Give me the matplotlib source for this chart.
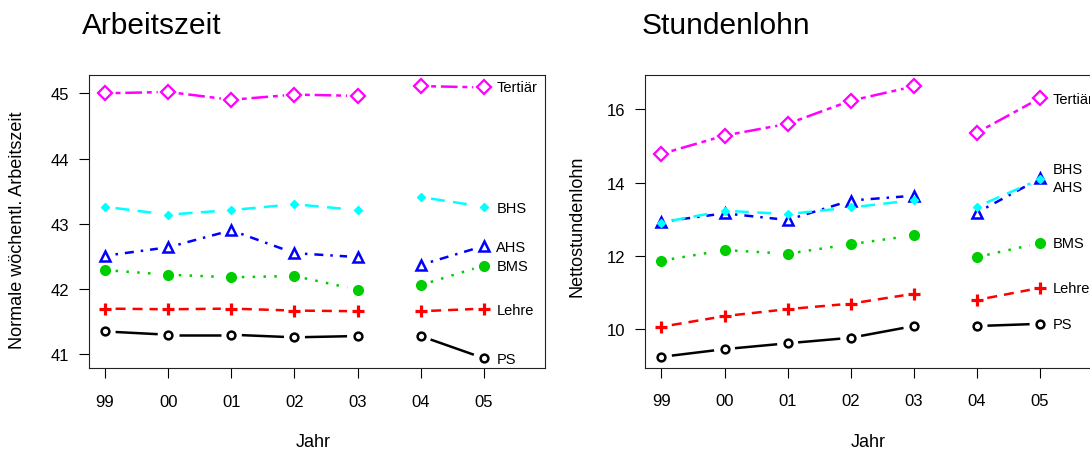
import numpy as np
import matplotlib
matplotlib.use("Agg")
import matplotlib.pyplot as plt

plt.rcParams['font.family'] = ['Liberation Sans', 'DejaVu Sans']
plt.rcParams['lines.scale_dashes'] = False

# x positions 0..6 -> years 99..05, gap between 03 and 04
years = ["99", "00", "01", "02", "03", "04", "05"]
groups = ["PS", "Lehre", "BMS", "AHS", "BHS", "Tertiär"]

# Arbeitszeit (normale wöchentliche Arbeitszeit)
az_ps = [41.35, 41.30, 41.30, 41.26, 41.28, 41.28, 40.94]
az_lehre = [41.70, 41.69, 41.70, 41.67, 41.66, 41.66, 41.70]
az_bms = [42.29, 42.22, 42.18, 42.20, 41.99, 42.06, 42.36]
az_ahs = [42.51, 42.64, 42.90, 42.55, 42.49, 42.37, 42.66]
az_bhs = [43.26, 43.14, 43.21, 43.30, 43.21, 43.41, 43.26]
az_tert = [45.00, 45.02, 44.90, 44.98, 44.96, 45.11, 45.09]
az_label_y = [40.93, 41.68, 42.36, 42.65, 43.24, 45.09]

# Stundenlohn (Nettostundenlohn)
sl_ps = [9.25, 9.46, 9.62, 9.77, 10.09, 10.09, 10.15]
sl_lehre = [10.07, 10.36, 10.55, 10.70, 10.97, 10.80, 11.13]
sl_bms = [11.87, 12.16, 12.06, 12.32, 12.56, 11.97, 12.35]
sl_ahs = [12.93, 13.16, 12.98, 13.51, 13.64, 13.18, 14.11]
sl_bhs = [12.91, 13.23, 13.14, 13.32, 13.52, 13.34, 14.09]
sl_tert = [14.78, 15.28, 15.60, 16.23, 16.62, 15.36, 16.30]
sl_label_y = [10.14, 11.13, 12.34, 13.88, 14.36, 16.27]

# style per group: color, dashes (pt), marker, markersize, filled, mew
styles = {
    "PS": ("black", "-", "o", 5.6, False, 1.8),
    "Lehre": ("#FF0000", (0, (7.2, 5.0)), "P", 0, True, 0),
    "BMS": ("#00CD00", (0, (1.8, 6.0)), "o", 7.0, True, 0),
    "AHS": ("#0000FF", (0, (1.8, 5.0, 6.5, 5.0)), "^", 7.6, False, 1.8),
    "BHS": ("#00FFFF", (0, (10.0, 6.0)), "D", 4.4, True, 0),
    "Tertiär": ("#FF00FF", (0, (3.5, 3.5, 12.0, 3.5)), "D", 7.2, False, 1.6),
}

W, H = 1090, 452
fig = plt.figure(figsize=(W / 100, H / 100), dpi=100)


def px_axes(l, t, r, b):
    return fig.add_axes([l / W, 1 - b / H, (r - l) / W, (b - t) / H])


def draw_b(ax, x, y, name, gap=10.5):
    # like R type="b": segments stop short of the points
    color, ls, marker, ms, filled, mew = styles[name]
    trans = ax.transData
    inv = trans.inverted()
    pts = trans.transform(np.column_stack([x, y]))
    for i in range(len(x) - 1):
        p0, p1 = pts[i], pts[i + 1]
        d = p1 - p0
        L = np.hypot(d[0], d[1])
        if L <= 2 * gap:
            continue
        u = d / L
        q = inv.transform(np.array([p0 + u * gap, p1 - u * gap]))
        ax.plot(q[:, 0], q[:, 1], color=color, ls=ls, lw=1.8,
                solid_capstyle='butt', dash_capstyle='butt')
    if marker == "P":
        ax.plot(x, y, ls='none', marker='+', ms=8.5, mew=2.3, color=color)
    elif filled:
        ax.plot(x, y, ls='none', marker=marker, ms=ms, color=color, mec=color)
    else:
        ax.plot(x, y, ls='none', marker=marker, ms=ms, mfc='none', mec=color, mew=mew)


def panel(ax, series, label_y, ylim, yticks, title, ylabel, title_x, ylab_x, ylab_y, jahr_x):
    ax.set_xlim(-0.26, 6.97)
    ax.set_ylim(*ylim)
    ax.set_xticks(range(len(years)))
    ax.set_xticklabels(years)
    ax.set_yticks(yticks)
    ax.tick_params(axis='x', length=7.5, width=0.8, pad=11, labelsize=12)
    ax.tick_params(axis='y', length=7.5, width=0.8, pad=6.5, labelsize=12)
    for s in ax.spines.values():
        s.set_linewidth(0.8)
        s.set_color('#222222')
    x = np.arange(len(years))
    for name, vals in zip(groups, series):
        v = np.array(vals)
        draw_b(ax, x[:5], v[:5], name)
        draw_b(ax, x[5:], v[5:], name)
    for name, ly in zip(groups, label_y):
        ax.text(6.2, ly, name, fontsize=10.5, ha='left', va='center', clip_on=False)
    fig.text(title_x / W, 1 - 34 / H, title, fontsize=21.5, ha='left', va='baseline')
    fig.text(ylab_x / W, 1 - ylab_y / H, ylabel, fontsize=13, rotation=90,
             ha='center', va='center')
    fig.text(jahr_x / W, 1 - 443 / H, "Jahr", fontsize=13, ha='center', va='center')


ax1 = px_axes(88.7, 76, 545, 369)
ax2 = px_axes(645, 76, 1101.3, 368.5)

panel(ax1, [az_ps, az_lehre, az_bms, az_ahs, az_bhs, az_tert], az_label_y,
      (40.79, 45.28), [41, 42, 43, 44, 45], "Arbeitszeit",
      "Normale wöchentl. Arbeitszeit", 82, 18, 230, 313)
panel(ax2, [sl_ps, sl_lehre, sl_bms, sl_ahs, sl_bhs, sl_tert], sl_label_y,
      (8.96, 16.93), [10, 12, 14, 16], "Stundenlohn",
      "Nettostundenlohn", 642, 577, 226, 868)

fig.savefig("out.png", dpi=100)
